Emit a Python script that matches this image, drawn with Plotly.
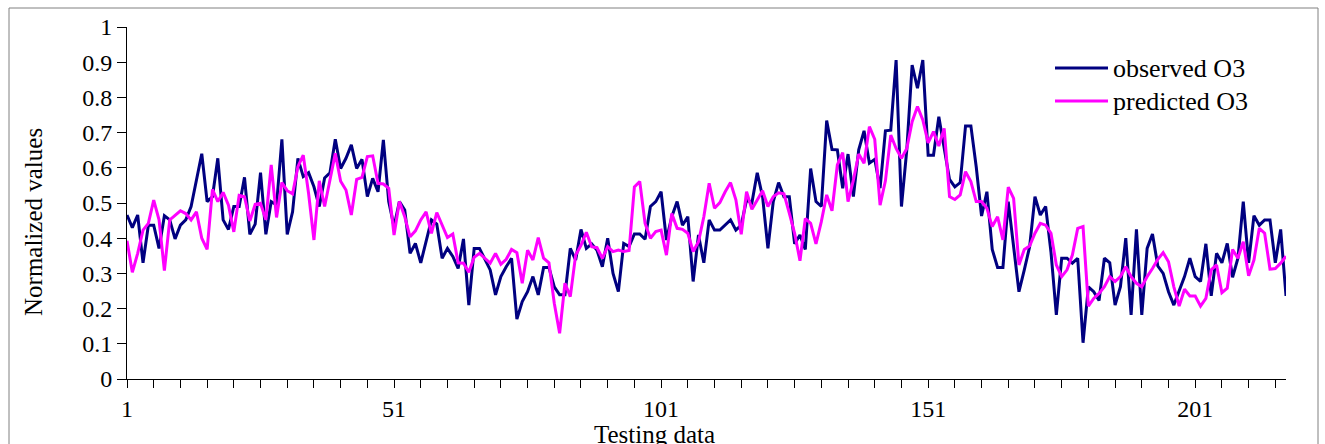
import plotly.graph_objects as go

observed = [
    0.466, 0.43, 0.466, 0.33, 0.437, 0.437, 0.371, 0.464, 0.452, 0.398,
    0.437, 0.452, 0.49, 0.565, 0.64, 0.504, 0.518, 0.627, 0.452, 0.425,
    0.49, 0.49, 0.573, 0.411, 0.44, 0.586, 0.411, 0.504, 0.495, 0.681,
    0.411, 0.475, 0.627, 0.575, 0.586, 0.546, 0.49, 0.571, 0.586, 0.681,
    0.598, 0.627, 0.665, 0.598, 0.624, 0.518, 0.57, 0.532, 0.679, 0.504,
    0.433, 0.504, 0.48, 0.357, 0.385, 0.33, 0.39, 0.452, 0.44, 0.343,
    0.371, 0.348, 0.314, 0.398, 0.21, 0.371, 0.371, 0.338, 0.31, 0.239,
    0.291, 0.319, 0.343, 0.17, 0.22, 0.248, 0.291, 0.239, 0.317, 0.317,
    0.262, 0.239, 0.239, 0.371, 0.338, 0.425, 0.371, 0.384, 0.366, 0.319,
    0.40, 0.30, 0.248, 0.385, 0.376, 0.412, 0.412, 0.397, 0.49, 0.504,
    0.532, 0.395, 0.461, 0.504, 0.437, 0.461, 0.277, 0.409, 0.33, 0.452,
    0.423, 0.423, 0.437, 0.452, 0.423, 0.437, 0.509, 0.501, 0.586, 0.518,
    0.371, 0.504, 0.558, 0.518, 0.518, 0.384, 0.409, 0.368, 0.598, 0.504,
    0.49, 0.734, 0.652, 0.651, 0.542, 0.639, 0.518, 0.651, 0.705, 0.613,
    0.624, 0.542, 0.705, 0.707, 0.906, 0.49, 0.651, 0.892, 0.826, 0.906,
    0.636, 0.636, 0.745, 0.655, 0.567, 0.546, 0.558, 0.719, 0.719, 0.603,
    0.463, 0.532, 0.368, 0.317, 0.317, 0.504, 0.381, 0.248, 0.31, 0.376,
    0.518, 0.466, 0.49, 0.36, 0.182, 0.343, 0.343, 0.329, 0.343, 0.103,
    0.262, 0.248, 0.223, 0.343, 0.33, 0.21, 0.262, 0.40, 0.182, 0.425,
    0.182, 0.371, 0.412, 0.321, 0.30, 0.248, 0.21, 0.248, 0.291, 0.343,
    0.291, 0.277, 0.384, 0.236, 0.357, 0.33, 0.385, 0.289, 0.343, 0.504,
    0.33, 0.464, 0.437, 0.452, 0.452, 0.33, 0.425, 0.236,
]

predicted = [
    0.393, 0.303, 0.357, 0.423, 0.442, 0.508, 0.452, 0.308, 0.452, 0.466,
    0.478, 0.47, 0.452, 0.475, 0.40, 0.368, 0.539, 0.504, 0.53, 0.494,
    0.418, 0.522, 0.518, 0.449, 0.496, 0.499, 0.452, 0.608, 0.459, 0.558,
    0.535, 0.526, 0.603, 0.636, 0.527, 0.395, 0.563, 0.49, 0.565, 0.641,
    0.562, 0.537, 0.466, 0.567, 0.573, 0.632, 0.634, 0.556, 0.554, 0.542,
    0.409, 0.504, 0.461, 0.404, 0.421, 0.452, 0.475, 0.414, 0.473, 0.437,
    0.402, 0.412, 0.33, 0.329, 0.303, 0.346, 0.357, 0.343, 0.329, 0.357,
    0.326, 0.34, 0.368, 0.359, 0.272, 0.366, 0.338, 0.402, 0.343, 0.33,
    0.215, 0.13, 0.272, 0.234, 0.352, 0.38, 0.417, 0.376, 0.373, 0.343,
    0.376, 0.362, 0.366, 0.362, 0.365, 0.546, 0.561, 0.442, 0.40, 0.419,
    0.423, 0.352, 0.47, 0.428, 0.425, 0.414, 0.362, 0.39, 0.461, 0.556,
    0.485, 0.501, 0.532, 0.558, 0.509, 0.411, 0.532, 0.482, 0.509, 0.535,
    0.49, 0.518, 0.529, 0.526, 0.471, 0.414, 0.336, 0.456, 0.442, 0.384,
    0.447, 0.523, 0.478, 0.608, 0.643, 0.504, 0.565, 0.639, 0.613, 0.717,
    0.681, 0.494, 0.563, 0.693, 0.655, 0.627, 0.655, 0.731, 0.774, 0.736,
    0.671, 0.703, 0.662, 0.712, 0.518, 0.51, 0.523, 0.589, 0.561, 0.504,
    0.504, 0.485, 0.433, 0.461, 0.395, 0.545, 0.513, 0.324, 0.368, 0.378,
    0.414, 0.442, 0.437, 0.414, 0.324, 0.291, 0.31, 0.352, 0.428, 0.433,
    0.207, 0.229, 0.243, 0.262, 0.291, 0.277, 0.291, 0.319, 0.291, 0.272,
    0.262, 0.291, 0.314, 0.34, 0.359, 0.333, 0.262, 0.207, 0.255, 0.236,
    0.236, 0.207, 0.229, 0.31, 0.324, 0.245, 0.258, 0.368, 0.343, 0.39,
    0.293, 0.338, 0.428, 0.414, 0.312, 0.314, 0.329, 0.349,
]

samples = list(range(1, len(observed) + 1))

x_label_values = [1, 51, 101, 151, 201]
x_tick_values = list(range(1, len(observed) + 1, 5))
y_tick_values = [0, 0.1, 0.2, 0.3, 0.4, 0.5, 0.6, 0.7, 0.8, 0.9, 1]
y_tick_labels = ["0", "0.1", "0.2", "0.3", "0.4", "0.5", "0.6", "0.7", "0.8", "0.9", "1"]

series_names = ["observed O3", "predicted O3"]
series_colors = ["#000080", "#FF00FF"]

FONT = "Liberation Serif, Times New Roman, serif"

W, H = 1325, 444
L, R, T, B = 127, 39, 27, 65
pw, ph = W - L - R, H - T - B


def px_x(p):
    return (p - L) / pw


def px_y(p):
    return (H - B - p) / ph


fig = go.Figure()
for name, vals, col in zip(series_names, [observed, predicted], series_colors):
    fig.add_trace(go.Scatter(x=samples, y=vals, mode="lines", name=name,
                             line=dict(color=col, width=3), showlegend=False,
                             hoverinfo="skip"))

x_tick_text = [str(v) if v in x_label_values else "" for v in x_tick_values]

fig.update_layout(
    width=W, height=H,
    margin=dict(l=L, r=R, t=T, b=B),
    paper_bgcolor="white", plot_bgcolor="white",
    font=dict(family=FONT, size=24, color="black"),
    xaxis=dict(range=[1, len(observed)], tickvals=x_tick_values, ticktext=x_tick_text,
               ticks="outside", ticklen=8, tickcolor="black", tickwidth=1,
               showline=True, linecolor="black", linewidth=1, showgrid=False,
               zeroline=False, tickfont=dict(family=FONT, size=24)),
    yaxis=dict(range=[0, 1], tickvals=y_tick_values, ticktext=y_tick_labels,
               ticks="outside", ticklen=9, tickcolor="black", tickwidth=1,
               showline=True, linecolor="black", linewidth=1, showgrid=False,
               zeroline=False, tickfont=dict(family=FONT, size=24)),
    showlegend=False,
)

shapes = [
    dict(type="rect", xref="paper", yref="paper",
         x0=px_x(9), x1=px_x(1318), y0=px_y(460), y1=px_y(8),
         line=dict(color="#808080", width=1), fillcolor="rgba(0,0,0,0)", layer="below"),
]
annotations = [
    dict(text="Normalized values", xref="paper", yref="paper", x=px_x(33), y=px_y(222),
         showarrow=False, textangle=-90, font=dict(family=FONT, size=25),
         xanchor="center", yanchor="middle"),
    dict(text="Testing data", xref="paper", yref="paper", x=px_x(654), y=px_y(434),
         showarrow=False, font=dict(family=FONT, size=25), xanchor="center", yanchor="middle"),
]
for i, (name, col) in enumerate(zip(series_names, series_colors)):
    yy = 68 + 33 * i
    shapes.append(dict(type="line", xref="paper", yref="paper",
                       x0=px_x(1055), x1=px_x(1108), y0=px_y(yy), y1=px_y(yy),
                       line=dict(color=col, width=3)))
    annotations.append(dict(text=name, xref="paper", yref="paper", x=px_x(1111), y=px_y(yy),
                            showarrow=False, xanchor="left", yanchor="middle",
                            font=dict(family=FONT, size=26)))

fig.update_layout(shapes=shapes, annotations=annotations)
fig.write_html("out.html", config={"displayModeBar": False},
               post_script="document.body.style.margin='0';")
